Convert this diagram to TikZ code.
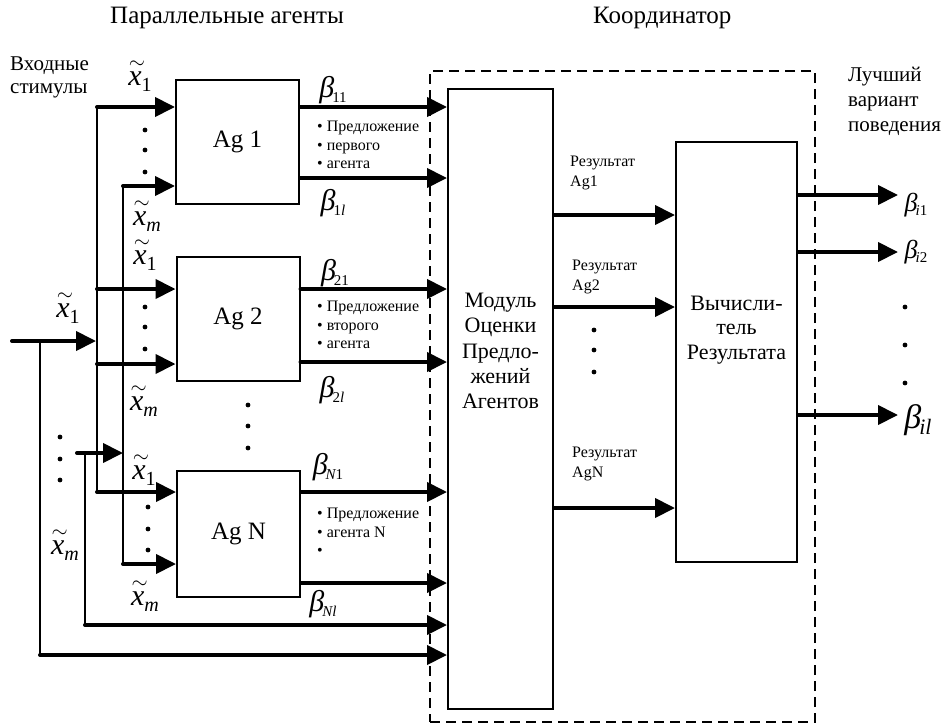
\documentclass[tikz,border=0pt]{standalone}
\usepackage{fontspec}
\setmainfont{Liberation Serif}
\usetikzlibrary{arrows.meta}
\newcommand{\fs}[1]{\fontsize{#1}{#1}\selectfont}
\newcommand{\bt}[1]{{\fs{30}\itshape β}\kern-2pt\raisebox{-5pt}{\fs{15}#1}}
\newcommand{\btb}[1]{{\fs{34}\itshape β}\kern-2pt\raisebox{-6pt}{\fs{22}#1}}
\newcommand{\bts}[1]{{\fs{26}\itshape β}\kern-2pt\raisebox{-4pt}{\fs{15}#1}}
\newcommand{\xt}[1]{\rlap{\raisebox{17pt}{\kern0.5pt{\fs{22}$\sim$}}}{\fs{30}\itshape x}\raisebox{-6pt}{\fs{20}#1}}
\begin{document}
\begin{tikzpicture}[x=1pt,y=-1pt,
  agbox/.style={draw,line width=2pt,inner sep=0pt,minimum width=123pt,minimum height=124pt,font=\fs{25}},
  bigbox/.style={draw,line width=2pt,inner sep=0pt},
  arr/.style={line width=4pt,line cap=round,-{Triangle[length=20pt,width=19pt]}},
  thin/.style={line width=2pt},
  lbl/.style={inner sep=0pt},
  smalltxt/.style={lbl,anchor=west,align=left,font=\fontsize{16}{18.5}\selectfont},
  restxt/.style={lbl,anchor=west,align=left,font=\fontsize{16}{20}\selectfont}
]
\useasboundingbox (0,0) rectangle (944,725);

% titles
\node[lbl,anchor=west,font=\fs{25}] (t1) at (110,18) {Параллельные агенты};
\node[lbl,anchor=west,font=\fs{25}] (t2) at (593,18) {Координатор};
\node[lbl,anchor=west,align=left,font=\fontsize{21}{23}\selectfont] (inp) at (10,77) {Входные\\стимулы};
\node[lbl,anchor=west,align=left,font=\fontsize{21}{25}\selectfont] (best) at (848,101) {Лучший\\вариант\\поведения};

% boxes
\node[agbox] (ag1) at (237.5,142) {Ag 1};
\node[agbox] (ag2) at (238,319) {Ag 2};
\node[agbox,minimum height=126pt] (agN) at (238.5,534) {Ag N};
\node[bigbox,minimum width=105pt,minimum height=620pt] (mod) at (500.5,399) {};
\node[bigbox,minimum width=121pt,minimum height=420pt] (calc) at (736.5,352) {};
\node[draw,line width=2pt,dash pattern=on 10pt off 6pt,inner sep=0pt,minimum width=385pt,minimum height=651pt] (coord) at (622.5,396.5) {};

\node[lbl,align=center,font=\fontsize{22}{25.2}\selectfont] (modt) at (500.5,351) {Модуль\\Оценки\\Предло-\\жений\\Агентов};
\node[lbl,align=center,font=\fontsize{22}{24.5}\selectfont] (calct) at (736.5,330) {Вычисли-\\тель\\Результата};

% junction coordinates
\coordinate (v1t) at (97,107);
\coordinate (v1b) at (97,492);
\coordinate (j21) at (97,289);
\coordinate (j22) at (97,364);
\coordinate (v2t) at (123,186);
\coordinate (v2b) at (123,564);
\coordinate (inL) at (12,341);
\coordinate (inJ) at (40,341);
\coordinate (v3b) at (40,655);
\coordinate (inS) at (77,453);
\coordinate (v4t) at (85,453);
\coordinate (v4b) at (85,625);
\coordinate (inE) at (96,341);

% verticals
\draw[thin] (v1t) -- (v1b);
\draw[thin] (v2t) -- (v2b);
\draw[thin] (inJ) -- (v3b);
\draw[thin] (v4t) -- (v4b);

% inputs
\draw[arr] (inL) -- (inE);
\draw[arr] (inS) -- (v2t |- inS);
\draw[arr] (v1t) -- (ag1.west |- v1t);
\draw[arr] (v2t) -- (ag1.west |- v2t);
\draw[arr] (j21) -- (ag2.west |- j21);
\draw[arr] (j22) -- (ag2.west |- j22);
\draw[arr] (v1b) -- (agN.west |- v1b);
\draw[arr] (v2b) -- (agN.west |- v2b);
\draw[arr] (v4b) -- (mod.west |- v4b);
\draw[arr] (v3b) -- (mod.west |- v3b);

% agent outputs
\coordinate (o11) at (299,107);
\coordinate (o1l) at (299,178);
\coordinate (o21) at (299,289);
\coordinate (o2l) at (299,362);
\coordinate (oN1) at (299,492);
\coordinate (oNl) at (299,583);
\draw[arr] (ag1.east |- o11) -- (mod.west |- o11);
\draw[arr] (ag1.east |- o1l) -- (mod.west |- o1l);
\draw[arr] (ag2.east |- o21) -- (mod.west |- o21);
\draw[arr] (ag2.east |- o2l) -- (mod.west |- o2l);
\draw[arr] (agN.east |- oN1) -- (mod.west |- oN1);
\draw[arr] (agN.east |- oNl) -- (mod.west |- oNl);

% results
\coordinate (r1) at (553,215);
\coordinate (r2) at (553,307);
\coordinate (rN) at (553,508);
\draw[arr] (mod.east |- r1) -- (calc.west |- r1);
\draw[arr] (mod.east |- r2) -- (calc.west |- r2);
\draw[arr] (mod.east |- rN) -- (calc.west |- rN);

% final outputs
\coordinate (f1) at (898,195);
\coordinate (f2) at (898,252);
\coordinate (fl) at (898,415);
\draw[arr] (calc.east |- f1) -- (f1);
\draw[arr] (calc.east |- f2) -- (f2);
\draw[arr] (calc.east |- fl) -- (fl);

% labels x
\node[lbl] (xa) at (140,76) {\xt{1}};
\node[lbl] (xb) at (147,216) {\xt{\itshape m}};
\node[lbl] (xc) at (145,255) {\xt{1}};
\node[lbl] (xd) at (68,308) {\xt{1}};
\node[lbl] (xe) at (144,401) {\xt{\itshape m}};
\node[lbl] (xf) at (144,470) {\xt{1}};
\node[lbl] (xg) at (65,545) {\xt{\itshape m}};
\node[lbl] (xh) at (145,596) {\xt{\itshape m}};

% beta labels
\node[lbl] (b11) at (333,90) {\bt{11}};
\node[lbl] (b1l) at (333,203) {\bt{1\itshape l}};
\node[lbl] (b21) at (335,273) {\bt{21}};
\node[lbl] (b2l) at (332,390) {\bt{2\itshape l}};
\node[lbl] (bN1) at (328,467) {\bt{\itshape N\upshape 1}};
\node[lbl] (bNl) at (323,604) {\bt{\itshape Nl}};
\node[lbl] (bi1) at (916,205) {\bts{\itshape i\upshape 1}};
\node[lbl] (bi2) at (916,252) {\bts{\itshape i\upshape 2}};
\node[lbl] (bil) at (918,420) {\btb{\itshape il}};

% proposal texts
\node[smalltxt] (p1) at (317,145) {• Предложение\\• первого\\• агента};
\node[smalltxt] (p2) at (317,325) {• Предложение\\• второго\\• агента};
\node[smalltxt] (pN) at (317,532) {• Предложение\\• агента N\\•};

% result texts
\node[restxt] (res1) at (570,173) {Результат\\Ag1};
\node[restxt] (res2) at (572,277) {Результат\\Ag2};
\node[restxt] (resN) at (572,464) {Результат\\AgN};

% dots
\foreach \p in {(145,130),(145,150),(145,172),(145,307),(145,327),(145,349),(148,507),(148,529),(148,550),(248,405),(248,426),(248,448),(60,437),(60,459),(60,480),(594,330),(594,350),(594,372),(905,307),(905,345),(905,383)}
  \fill \p circle [radius=2.4];
\end{tikzpicture}
\end{document}
